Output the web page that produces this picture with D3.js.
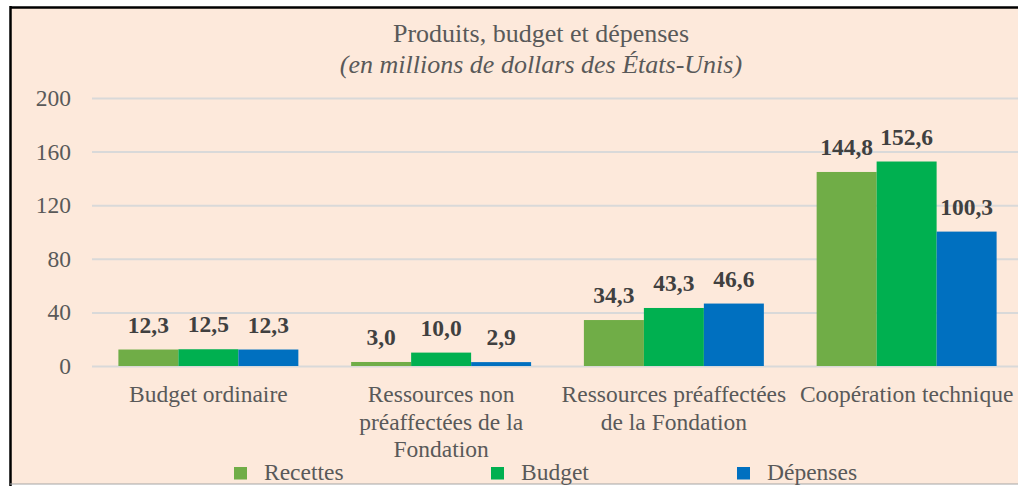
<!DOCTYPE html>
<html>
<head>
<meta charset="utf-8">
<script src="https://cdn.jsdelivr.net/npm/d3@7"></script>
<style>
  body { margin: 0; background: #fff; }
  svg { display: block; font-family: "Liberation Serif", "Times New Roman", serif; }
</style>
</head>
<body>
<svg id="chart" width="1018" height="486"></svg>
<script>
// Produits, budget et dépenses

var categories = ["Budget ordinaire", "Ressources non préaffectées de la Fondation",
                  "Ressources préaffectées de la Fondation", "Coopération technique"];
var series = ["Recettes", "Budget", "Dépenses"];
var recettes = [12.3, 3.0, 34.3, 144.8];
var budget = [12.5, 10.0, 43.3, 152.6];
var depenses = [12.3, 2.9, 46.6, 100.3];
var yTicks = [0, 40, 80, 120, 160, 200];
var colors = ["#70ad47", "#00b050", "#0070c0"];

var values = [recettes, budget, depenses];
var fmt = function(v) { return d3.format(".1f")(v).replace(".", ","); };

var svg = d3.select("#chart");

// frame
svg.append("rect")
  .attr("x", 10).attr("y", 7)
  .attr("width", 1030).attr("height", 477)
  .attr("fill", "#fde9db");
svg.append("line").attr("x1", 10).attr("x2", 1018).attr("y1", 7.5).attr("y2", 7.5)
  .attr("stroke", "#000").attr("stroke-width", 2.5);
svg.append("line").attr("x1", 10.5).attr("x2", 10.5).attr("y1", 6).attr("y2", 486)
  .attr("stroke", "#000").attr("stroke-width", 2.5);
svg.append("line").attr("x1", 10).attr("x2", 1018).attr("y1", 484).attr("y2", 484)
  .attr("stroke", "#a6a6a6").attr("stroke-width", 1.2);

var x0 = d3.scaleBand().domain(categories).range([92, 1023]);
var x1 = d3.scaleBand().domain(series).range([0, x0.bandwidth()]).paddingOuter(0.44);
var y = d3.scaleLinear().domain([0, 200]).range([366, 98]);

// gridlines + y labels
var yAxis = svg.append("g")
  .attr("transform", "translate(92,0)")
  .call(d3.axisLeft(y).tickValues(yTicks).tickSize(-940).tickPadding(21).tickFormat(d3.format("d")));
yAxis.select(".domain").remove();
yAxis.selectAll("line").attr("stroke", "#d9d9d9").attr("stroke-width", 2);
yAxis.selectAll("text")
  .attr("font-family", "Liberation Serif").attr("font-size", 23.5)
  .attr("fill", "#595959").attr("dy", "0.32em");

// bars
var groups = svg.selectAll("g.cat")
  .data(categories)
  .enter().append("g")
  .attr("class", "cat")
  .attr("transform", function(d) { return "translate(" + x0(d) + ",0)"; });

groups.selectAll("rect")
  .data(function(d, i) { return series.map(function(s, j) { return { s: s, v: values[j][i], j: j }; }); })
  .enter().append("rect")
  .attr("x", function(d) { return x1(d.s); })
  .attr("y", function(d) { return y(d.v); })
  .attr("width", x1.bandwidth())
  .attr("height", function(d) { return y(0) - y(d.v); })
  .attr("fill", function(d) { return colors[d.j]; });

groups.selectAll("text.val")
  .data(function(d, i) { return series.map(function(s, j) { return { s: s, v: values[j][i] }; }); })
  .enter().append("text")
  .attr("class", "val")
  .attr("x", function(d) { return x1(d.s) + x1.bandwidth() / 2; })
  .attr("y", function(d) { return y(d.v) - 17; })
  .attr("text-anchor", "middle")
  .attr("font-size", 23.5).attr("font-weight", "bold")
  .attr("fill", "#404040")
  .text(function(d) { return fmt(d.v); });

// category labels, wrapped to band width
function wrap(textSel, width) {
  textSel.each(function(d) {
    var t = d3.select(this);
    var words = d.split(" "), line = [], lines = [];
    var probe = t.append("tspan");
    words.forEach(function(w) {
      line.push(w);
      probe.text(line.join(" "));
      if (probe.node().getComputedTextLength() > width && line.length > 1) {
        line.pop();
        lines.push(line.join(" "));
        line = [w];
      }
    });
    lines.push(line.join(" "));
    probe.remove();
    lines.forEach(function(l, k) {
      t.append("tspan").attr("x", t.attr("x")).attr("dy", k ? 27.5 : 0).text(l);
    });
  });
}

svg.selectAll("text.cat")
  .data(categories)
  .enter().append("text")
  .attr("class", "cat")
  .attr("x", function(d) { return x0(d) + x0.bandwidth() / 2; })
  .attr("y", 402)
  .attr("text-anchor", "middle")
  .attr("font-size", 23.5)
  .attr("fill", "#595959")
  .call(wrap, x0.bandwidth());

// title
svg.append("text")
  .attr("x", 541).attr("y", 42)
  .attr("text-anchor", "middle")
  .attr("font-size", 26).attr("fill", "#595959")
  .text("Produits, budget et dépenses");
svg.append("text")
  .attr("x", 541).attr("y", 73)
  .attr("text-anchor", "middle")
  .attr("font-size", 26).attr("font-style", "italic").attr("fill", "#595959")
  .text("(en millions de dollars des États-Unis)");

// legend
var legendX = [234, 491, 737];
var legend = svg.selectAll("g.leg")
  .data(series)
  .enter().append("g")
  .attr("class", "leg")
  .attr("transform", function(d, i) { return "translate(" + legendX[i] + ",467)"; });
legend.append("rect")
  .attr("width", 13).attr("height", 12.5)
  .attr("fill", function(d, i) { return colors[i]; });
legend.append("text")
  .attr("x", 30).attr("y", 13)
  .attr("font-size", 23.5).attr("fill", "#595959")
  .text(function(d) { return d; });
</script>
</body>
</html>
